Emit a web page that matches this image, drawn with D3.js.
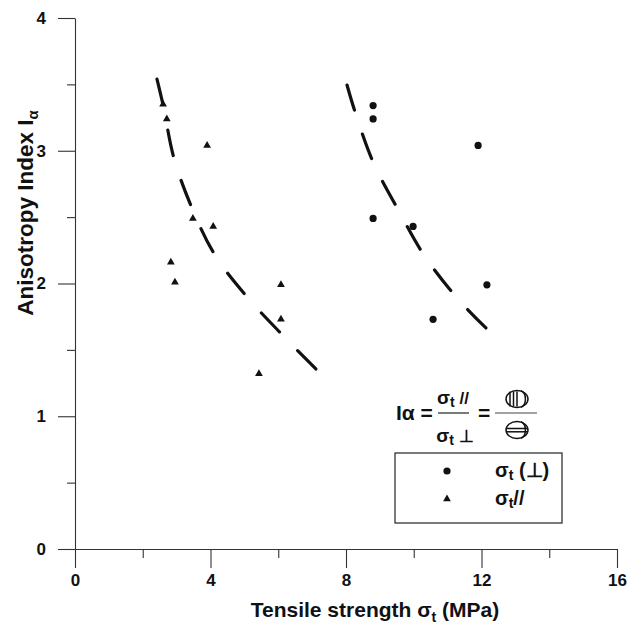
<!DOCTYPE html>
<html><head><meta charset="utf-8">
<script src="https://cdn.jsdelivr.net/npm/d3@7"></script>
<style>
body{margin:0;background:#fff;}
text{font-family:"Liberation Sans",Arial,Helvetica,sans-serif;font-weight:bold;fill:#111;}
</style></head>
<body><svg id="c" width="639" height="630"></svg>
<script>
// ---- data ----
const xTicks = [0, 4, 8, 12, 16];
const xMinor = [2, 6, 10, 14];
const yTicks = [0, 1, 2, 3, 4];
const yMinor = [0.5, 1.5, 2.5, 3.5];

// sigma_t (perpendicular) points
const perpX = [8.8, 8.8, 11.9, 8.8, 9.98, 12.16, 10.57];
const perpY = [3.34, 3.24, 3.04, 2.49, 2.43, 1.99, 1.73];

// sigma_t (parallel) points
const parX = [2.6, 2.71, 3.9, 3.48, 4.08, 2.83, 2.95, 6.08, 6.08, 5.43];
const parY = [3.35, 3.24, 3.04, 2.49, 2.43, 2.16, 2.01, 1.99, 1.73, 1.32];

// dashed trend curves
const fitParX = [2.42, 2.60, 2.92, 3.45, 4.13, 5.11, 6.17, 7.11];
const fitParY = [3.54, 3.345, 2.945, 2.57, 2.215, 1.89, 1.60, 1.356];
const fitPerpX = [8.03, 8.27, 8.80, 9.53, 10.30, 11.28, 12.13];
const fitPerpY = [3.495, 3.29, 2.915, 2.56, 2.215, 1.89, 1.665];

// ---- chart ----
const svg = d3.select("#c");
const x = d3.scaleLinear().domain([0, 16]).range([75, 617]);
const y = d3.scaleLinear().domain([0, 4]).range([549, 18]);

const axColor = "#333";
function styleAxis(g){
  g.selectAll("path").attr("stroke", axColor).attr("stroke-width", 1.1);
  g.selectAll("line").attr("stroke", axColor).attr("stroke-width", 1.1);
}
// x axis
const gx = svg.append("g").attr("transform", `translate(0,${y(0)})`)
  .call(d3.axisBottom(x).tickValues(xTicks).tickSize(19).tickSizeOuter(0).tickPadding(6).tickFormat(d3.format("d")));
gx.selectAll("text").attr("font-size", 17).attr("fill", "#111").attr("font-family", "Liberation Sans, Arial, sans-serif").attr("font-weight", "bold");
styleAxis(gx);
const gx2 = svg.append("g").attr("transform", `translate(0,${y(0)})`)
  .call(d3.axisBottom(x).tickValues(xMinor).tickSize(9).tickFormat(""));
gx2.select("path").remove();
styleAxis(gx2);

// y axis
const gy = svg.append("g").attr("transform", `translate(${x(0)},0)`)
  .call(d3.axisLeft(y).tickValues(yTicks).tickSize(17).tickSizeOuter(0).tickPadding(12).tickFormat(d3.format("d")));
gy.selectAll("text").attr("font-size", 17).attr("fill", "#111").attr("font-family", "Liberation Sans, Arial, sans-serif").attr("font-weight", "bold");
styleAxis(gy);
const gy2 = svg.append("g").attr("transform", `translate(${x(0)},0)`)
  .call(d3.axisLeft(y).tickValues(yMinor).tickSize(8).tickFormat(""));
gy2.select("path").remove();
styleAxis(gy2);

// axis titles
const xt = svg.append("text").attr("x", 375).attr("y", 617).attr("text-anchor", "middle").attr("font-size", 21);
xt.append("tspan").text("Tensile strength σ");
xt.append("tspan").attr("font-size", 14).attr("dy", 5).text("t");
xt.append("tspan").attr("dy", -5).text(" (MPa)");

const yt = svg.append("text").attr("transform", "translate(33,213) rotate(-90)").attr("text-anchor", "middle").attr("font-size", 22.5);
yt.append("tspan").text("Anisotropy Index I");
yt.append("tspan").attr("font-size", 15).attr("dy", 5).text("α");

// curves
const line = d3.line().x(d => x(d[0])).y(d => y(d[1])).curve(d3.curveCatmullRom.alpha(0.5));
[[fitParX, fitParY, 7], [fitPerpX, fitPerpY, 6]].forEach(([xs, ys, n]) => {
  const p = svg.append("path").datum(xs.map((v, i) => [v, ys[i]]))
    .attr("d", line).attr("fill", "none").attr("stroke", "#111")
    .attr("stroke-width", 3.2).attr("stroke-linecap", "round");
  const L = p.node().getTotalLength();
  const dash = 26;
  const gap = (L - n * dash) / (n - 1);
  p.attr("stroke-dasharray", `${dash},${gap}`);
});

// points
svg.append("g").selectAll("circle").data(perpX.map((v, i) => [v, perpY[i]])).join("circle")
  .attr("cx", d => x(d[0])).attr("cy", d => y(d[1])).attr("r", 3.6).attr("fill", "#111");
const tri = d3.symbol().type(d3.symbolTriangle).size(26);
svg.append("g").selectAll("path").data(parX.map((v, i) => [v, parY[i]])).join("path")
  .attr("d", tri).attr("transform", d => `translate(${x(d[0])},${y(d[1])})`).attr("fill", "#111");

// formula
const f = svg.append("g");
const t1 = f.append("text").attr("x", 396).attr("y", 420).attr("font-size", 21);
t1.append("tspan").text("Iα =");
function sig(g, xx, yy, tail){
  const t = g.append("text").attr("x", xx).attr("y", yy).attr("font-size", 19).attr("text-anchor", "middle");
  t.append("tspan").text("σ");
  t.append("tspan").attr("font-size", 14).attr("dy", 3).text("t");
  t.append("tspan").attr("dy", -3).attr("font-size", 17).text(tail);
}
sig(f, 453, 404, " //");
sig(f, 455, 442, " ⊥");
f.append("line").attr("x1", 438).attr("x2", 469).attr("y1", 413).attr("y2", 413).attr("stroke", "#222").attr("stroke-width", 1.2);
f.append("text").attr("x", 478).attr("y", 420).attr("font-size", 21).text("=");
f.append("line").attr("x1", 495).attr("x2", 537).attr("y1", 413).attr("y2", 413).attr("stroke", "#444").attr("stroke-width", 1);
// sphere icon with vertical stripes
const s1 = f.append("g").attr("transform", "translate(517,399)").attr("fill", "none").attr("stroke", "#111").attr("stroke-width", 1.5);
s1.append("ellipse").attr("rx", 11).attr("ry", 8.5);
s1.append("path").attr("d", "M4,-8.2 A6,8.5 0 0 1 4,8.2");
[-7, -3.5, 0].forEach(d => s1.append("line").attr("x1", d).attr("x2", d).attr("y1", -7.5).attr("y2", 7.5));
// sphere icon with horizontal stripe
const s2 = f.append("g").attr("transform", "translate(517,430)").attr("fill", "none").attr("stroke", "#111").attr("stroke-width", 1.5);
s2.append("ellipse").attr("rx", 11).attr("ry", 8.5);
s2.append("path").attr("d", "M4,-8.2 A6,8.5 0 0 1 4,8.2");
s2.append("line").attr("x1", -10.5).attr("x2", 10.5).attr("y1", -1.5).attr("y2", -1.5);
s2.append("line").attr("x1", -10.5).attr("x2", 10.5).attr("y1", 1.8).attr("y2", 1.8);

// legend box
const lg = svg.append("g");
lg.append("rect").attr("x", 395).attr("y", 453).attr("width", 167).attr("height", 70)
  .attr("fill", "none").attr("stroke", "#222").attr("stroke-width", 1.2);
lg.append("circle").attr("cx", 447).attr("cy", 471).attr("r", 3.6).attr("fill", "#111");
lg.append("path").attr("d", tri).attr("transform", "translate(447,499)").attr("fill", "#111");
const l1 = lg.append("text").attr("x", 495).attr("y", 477).attr("font-size", 20);
l1.append("tspan").text("σ");
l1.append("tspan").attr("font-size", 14).attr("dy", 3).text("t");
l1.append("tspan").attr("dy", -3).text(" (⊥)");
const l2 = lg.append("text").attr("x", 495).attr("y", 505).attr("font-size", 20);
l2.append("tspan").text("σ");
l2.append("tspan").attr("font-size", 14).attr("dy", 3).text("t");
l2.append("tspan").attr("dy", -3).text("//");
</script></body></html>
